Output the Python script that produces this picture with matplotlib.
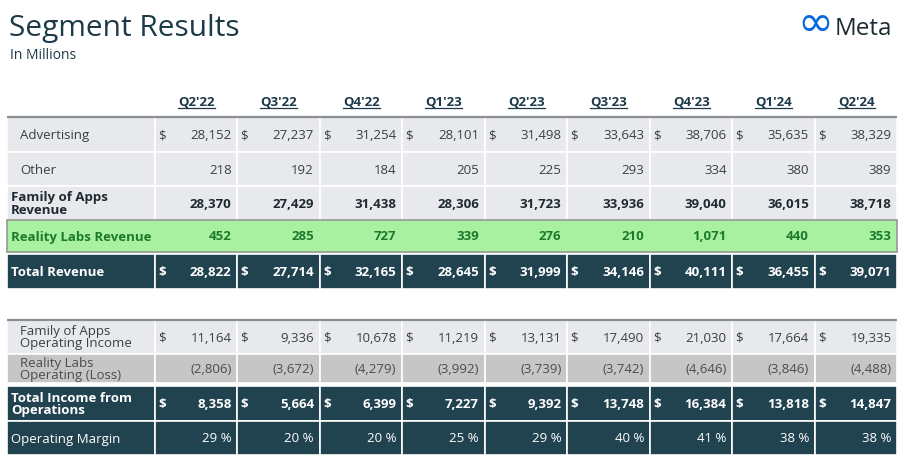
import matplotlib
matplotlib.use("Agg")
import matplotlib.pyplot as plt
from matplotlib.patches import Rectangle

plt.rcParams["font.family"] = ["Open Sans", "DejaVu Sans"]

# ---- data ----
quarters = ["Q2'22", "Q3'22", "Q4'22", "Q1'23", "Q2'23", "Q3'23", "Q4'23", "Q1'24", "Q2'24"]

advertising = [28152, 27237, 31254, 28101, 31498, 33643, 38706, 35635, 38329]
other = [218, 192, 184, 205, 225, 293, 334, 380, 389]
foa_revenue = [28370, 27429, 31438, 28306, 31723, 33936, 39040, 36015, 38718]
rl_revenue = [452, 285, 727, 339, 276, 210, 1071, 440, 353]
total_revenue = [28822, 27714, 32165, 28645, 31999, 34146, 40111, 36455, 39071]

foa_op_income = [11164, 9336, 10678, 11219, 13131, 17490, 21030, 17664, 19335]
rl_op_loss = [-2806, -3672, -4279, -3992, -3739, -3742, -4646, -3846, -4488]
total_op_income = [8358, 5664, 6399, 7227, 9392, 13748, 16384, 13818, 14847]
op_margin = [29, 20, 20, 25, 29, 40, 41, 38, 38]

# ---- styles ----
NAVY = "#21424f"
LIGHT = "#e8e9ec"
GREEN_BG = "#a8f1a0"
GREEN_TX = "#1d7a2c"
GRAY_BG = "#c6c6c6"
TEXT = "#3a3f44"
TITLE = "#1d3a48"

# label, values, (top, bottom), bg, text color, bold, dollar, indent, kind
rows = [
    ("Advertising", advertising, (117, 152), LIGHT, TEXT, False, True, 13, "num"),
    ("Other", other, (152, 186), LIGHT, TEXT, False, False, 13, "num"),
    ("Family of Apps\nRevenue", foa_revenue, (186, 220), LIGHT, "#1f2a30", True, False, 4, "num"),
    ("Reality Labs Revenue", rl_revenue, (220, 252), GREEN_BG, GREEN_TX, True, False, 4, "num"),
    ("Total Revenue", total_revenue, (254, 289), NAVY, "white", True, True, 4, "num"),
    ("Family of Apps\nOperating Income", foa_op_income, (320, 354), LIGHT, TEXT, False, True, 13, "num"),
    ("Reality Labs\nOperating (Loss)", rl_op_loss, (354, 383), GRAY_BG, "#4a4d50", False, False, 13, "num"),
    ("Total Income from\nOperations", total_op_income, (386, 421), NAVY, "white", True, True, 4, "num"),
    ("Operating Margin", op_margin, (421, 455), NAVY, "white", False, False, 4, "pct"),
]

W, H = 904, 469
x_left, x_label_end, col_w = 7, 155, 82.5
FS = 9.5


def fmt(v, kind):
    if kind == "pct":
        return f"{v} %"
    if v < 0:
        return f"({-v:,})"
    return f"{v:,}"


fig = plt.figure(figsize=(W / 100, H / 100), dpi=100)
ax = fig.add_axes([0, 0, 1, 1])
ax.set_xlim(0, W)
ax.set_ylim(H, 0)
ax.axis("off")

# titles
ax.text(9, 36, "Segment Results", fontsize=21.5, color=TITLE, va="baseline")
ax.text(10, 59, "In Millions", fontsize=10, color=TITLE, va="baseline")

# logo
ax.text(833, 36, "∞", fontsize=31, color="#0668e1", ha="right", va="baseline",
        family="DejaVu Sans")
ax.text(835, 35, "Meta", fontsize=17.5, color="#1c2b33", ha="left", va="baseline")

# column headers, underlined
hdr_texts = []
for i, q in enumerate(quarters):
    cx = x_label_end + col_w * (i + 0.5)
    t = ax.text(cx, 105.5, q, fontsize=9.5, fontweight="bold", color=TITLE, ha="center", va="baseline")
    hdr_texts.append((t, cx))

# rows
for label, vals, (top, bot), bg, tc, bold, dollar, indent, kind in rows:
    h = bot - top
    is_green = bg == GREEN_BG
    ax.add_patch(Rectangle((x_left, top), x_label_end - x_left, h, facecolor=bg,
                           edgecolor="white" if not is_green else bg, linewidth=1.2))
    for i in range(len(quarters)):
        x0 = x_label_end + col_w * i
        ax.add_patch(Rectangle((x0, top), col_w, h, facecolor=bg,
                               edgecolor="white" if not is_green else bg, linewidth=1.2))
    if is_green:
        ax.add_patch(Rectangle((x_left, top), x_label_end + col_w * 9 - x_left, h,
                               facecolor="none", edgecolor="#9a9a9a", linewidth=1.2))
    cy = (top + bot) / 2
    base = cy + 4.5
    fw = "bold" if bold else "normal"
    if "\n" in label:
        ax.text(x_left + indent, cy + 1, label, fontsize=FS, color=tc, fontweight=fw,
                ha="left", va="center", linespacing=0.9)
    else:
        ax.text(x_left + indent, base, label, fontsize=FS, color=tc, fontweight=fw,
                ha="left", va="baseline")
    for i, v in enumerate(vals):
        x0 = x_label_end + col_w * i
        if dollar:
            ax.text(x0 + 3, base, "$", fontsize=FS, color=tc, fontweight=fw, ha="left", va="baseline")
        ax.text(x0 + col_w - 6, base, fmt(v, kind), fontsize=FS, color=tc, fontweight=fw,
                ha="right", va="baseline")

# section top rules
x_right = x_label_end + col_w * 9
for y in (117, 320):
    ax.plot([x_left, x_right], [y, y], color="#8a8f94", linewidth=1.6, solid_capstyle="butt")

# header underlines from text extents
fig.canvas.draw()
rend = fig.canvas.get_renderer()
inv = ax.transData.inverted()
for t, cx in hdr_texts:
    bb = t.get_window_extent(rend)
    (x0, _), (x1, _) = inv.transform([(bb.x0, bb.y0), (bb.x1, bb.y0)])
    ax.plot([x0, x1], [108.5, 108.5], color=TITLE, linewidth=0.9)

fig.savefig("out.png", dpi=100)
